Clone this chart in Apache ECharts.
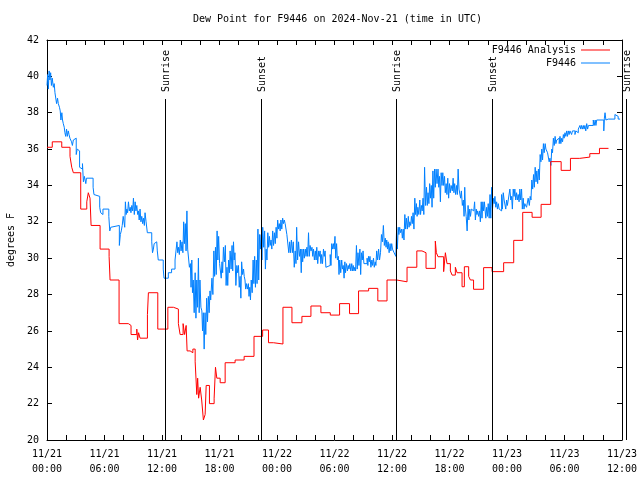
<!DOCTYPE html>
<html><head><meta charset="utf-8">
<script src="https://cdn.jsdelivr.net/npm/echarts@6/dist/echarts.min.js"></script>
<style>html,body{margin:0;padding:0;background:#fff}#c{width:640px;height:480px}</style>
</head><body><div id="c"></div>
<script>
const titleText = 'Dew Point for F9446 on 2024-Nov-21 (time in UTC)';
const yAxisTitle = 'degrees F';
const monthLabel = '11';
const startDay = 21;            // hour 0 = 11/21 00:00 UTC
const xMin = 0, xMax = 60, xStep = 6;
const yMin = 20, yMax = 42, yStep = 2;
const analysisName = 'F9446 Analysis';
const obsName = 'F9446';

// [hour since 11/21 00:00 UTC, dew point F]  (value held until next point)
const analysisData = [[0,36.1],[0.55,36.4],[1.54,36.1],[2.40,35.6],[2.58,35.0],[2.75,34.7],[3.52,32.7],[4.15,33.1],[4.31,33.6],[4.49,33.3],[4.60,31.8],[5.54,30.5],[6.48,30.1],[6.58,28.8],[7.52,26.4],[8.49,26.3],[8.77,25.8],[9.37,26.1],[9.45,25.5],[9.56,25.9],[9.71,25.6],[10.48,26.9],[10.58,28.1],[11.56,26.1],[12.61,27.3],[13.19,27.2],[13.71,26.4],[13.89,25.8],[14.20,26.4],[14.36,25.8],[14.52,26.3],[14.62,24.9],[14.93,24.8],[15.22,25.0],[15.46,24.3],[15.63,22.5],[15.72,23.4],[15.82,22.3],[15.98,22.9],[16.14,22.2],[16.32,21.1],[16.50,21.4],[16.61,23.0],[16.95,22.0],[17.44,22.3],[17.58,24.0],[17.72,23.4],[18.07,23.15],[18.59,24.25],[19.63,24.4],[20.57,24.6],[21.6,25.7],[22.5,26.05],[23.11,25.35],[23.63,25.28],[24.62,27.3],[25.56,26.45],[26.60,26.8],[27.54,27.37],[28.58,27.0],[29.56,26.87],[30.53,27.5],[31.57,26.95],[32.51,28.2],[33.56,28.34],[34.52,27.65],[35.48,28.8],[36.50,28.7],[37.57,29.5],[38.59,30.4],[39.13,30.3],[39.55,29.44],[40.52,30.94],[40.63,30.3],[40.80,30.08],[41.39,29.26],[41.57,30.3],[41.74,29.7],[42.09,29.3],[42.27,29.07],[42.61,29.5],[42.79,29.2],[43.31,28.43],[43.55,29.53],[44.00,29.0],[44.18,28.8],[44.51,28.29],[45.56,29.48],[46.44,29.26],[47.65,29.75],[48.70,30.98],[49.64,32.52],[50.62,32.25],[51.56,32.96],[52.56,35.31],[53.65,34.83],[54.62,35.49],[55.59,35.56],[56.64,35.75],[57.65,36.04],[58.59,36.04]];

const obsData = [[0.00,39.5],[0.07,40.1],[0.14,39.3],[0.22,40.3],[0.30,39.8],[0.38,40.2],[0.46,39.5],[0.55,39.9],[0.66,39.4],[0.75,39.6],[0.83,39.1],[0.92,39.0],
[1.00,38.5],[1.10,38.8],[1.18,38.5],[1.30,38.3],[1.38,38.1],[1.45,37.6],[1.55,38.0],[1.62,37.6],[1.70,37.4],[1.80,37.2],[1.87,36.9],[1.95,36.7],
[2.04,37.1],[2.12,36.7],[2.22,37.0],[2.30,36.8],[2.39,36.6],[2.56,36.4],[2.65,36.2],[2.75,36.5],[2.91,36.6],
[3.05,35.7],[3.15,36.0],[3.25,35.9],[3.40,35.0],[3.55,34.9],[3.70,35.2],[3.80,34.2],[3.90,34.5],
[4.05,34.1],[4.12,34.4],[4.81,33.9],[4.90,33.5],[4.98,33.4],
[5.50,32.8],[5.60,32.5],[5.70,32.4],[5.84,32.7],
[6.45,32.3],[6.55,31.5],[6.65,31.7],[6.85,31.8],
[7.55,30.7],[7.65,31.3],[7.75,31.5],[7.85,31.8],[7.95,32.3],
[8.11,31.7],[8.18,33.1],[8.26,32.4],[8.33,32.7],[8.41,32.5],[8.50,33.1],[8.59,32.6],[8.68,32.8],[8.76,32.5],[8.85,32.9],[8.94,32.6],[9.02,33.3],
[9.11,32.4],[9.20,33.1],[9.28,32.6],[9.37,32.9],[9.46,32.4],[9.54,32.6],[9.62,32.1],[9.71,32.7],[9.80,32.0],[9.89,32.3],[9.98,31.9],
[10.06,32.2],[10.16,31.8],[10.23,32.5],[10.34,32.0],[10.47,31.4],
[10.93,30.9],[11.01,30.3],[11.10,30.5],[11.18,30.8],[11.27,30.9],[11.45,30.9],[11.51,30.4],[11.61,29.9],
[12.13,29.4],[12.21,28.9],[12.66,29.2],[13.00,29.4],
[13.36,29.9],[13.56,30.9],[13.64,30.3],[13.72,30.6],[13.81,30.2],[13.91,31.0],[13.99,30.4],[14.09,30.9],[14.18,30.3],
[14.26,32.0],[14.34,30.8],[14.43,31.9],[14.51,30.4],[14.60,32.6],[14.68,30.5],[14.76,30.6],[14.86,29.5],[14.96,29.7],[15.03,28.4],
[15.11,29.9],[15.18,28.1],[15.26,28.8],[15.36,27.0],[15.46,29.2],[15.54,26.7],[15.63,28.8],[15.71,27.3],[15.80,30.0],[15.88,27.0],[15.96,28.8],[16.06,27.3],
[16.16,27.1],[16.23,26.0],[16.31,27.0],[16.40,25.0],[16.49,27.0],[16.57,25.8],[16.66,27.8],[16.75,26.5],[16.84,27.9],[16.92,27.0],[17.01,28.2],[17.08,27.7],
[17.21,28.9],[17.31,28.0],[17.41,30.4],[17.49,29.0],[17.58,30.6],[17.66,29.1],[17.75,31.5],[17.83,29.9],[17.91,31.2],[18.01,29.7],
[18.11,29.6],[18.18,28.9],[18.26,29.8],[18.33,29.2],[18.41,30.6],[18.51,29.8],[18.61,30.7],[18.69,28.5],[18.78,29.5],[18.86,28.5],[18.95,29.9],[19.03,29.2],
[19.11,30.4],[19.21,29.4],[19.31,30.7],[19.38,29.3],[19.46,30.9],[19.53,29.9],[19.61,30.3],[19.71,28.5],[19.81,29.6],[19.89,29.2],[19.98,29.6],[20.06,28.4],
[20.15,29.0],[20.23,27.8],[20.31,29.8],[20.41,29.1],[20.51,29.4],[20.58,29.0],[20.66,28.8],[20.73,28.3],[20.81,28.6],[20.91,28.3],[21.01,28.6],[21.08,27.9],
[21.16,28.4],[21.23,27.7],[21.31,28.8],[21.41,28.1],[21.51,29.9],[21.59,28.6],[21.67,30.1],[21.75,28.4],[21.84,29.9],[21.92,28.6],[22.01,31.6],[22.09,28.8],
[22.18,31.3],[22.26,30.5],[22.35,31.3],[22.43,29.9],[22.51,31.7],[22.61,30.6],[22.71,31.5],[22.79,29.4],[22.87,30.5],[22.95,29.9],[23.04,31.4],[23.13,30.6],[23.21,31.2],[23.29,30.7],
[23.38,31.0],[23.46,30.5],[23.55,31.5],[23.64,30.7],[23.73,31.4],[23.82,30.8],[23.91,31.7],[23.99,31.1],[24.07,32.1],[24.16,31.6],[24.24,31.9],[24.33,31.5],
[24.41,32.1],[24.50,31.6],[24.59,32.2],[24.68,31.9],[24.76,32.1],[24.85,31.9],[24.94,31.8],[25.03,31.3],
[25.15,31.2],[25.23,30.3],[25.32,30.9],[25.40,30.3],[25.50,31.0],[25.60,30.3],[25.70,30.9],[25.80,29.5],[25.90,30.4],[25.98,29.7],[26.05,31.7],[26.15,29.9],
[26.25,30.9],[26.35,30.1],[26.45,30.5],[26.53,29.2],[26.60,30.5],[26.68,29.8],[26.77,30.5],[26.85,30.0],[26.95,30.5],[27.03,30.1],[27.12,30.6],[27.20,30.1],
[27.29,31.4],[27.37,30.1],[27.45,30.7],[27.55,30.4],[27.65,30.6],[27.73,30.1],[27.81,30.5],[27.90,29.9],[28.00,30.4],[28.08,29.9],
[28.15,30.6],[28.25,29.7],[28.35,30.4],[28.43,30.1],[28.50,30.4],[28.58,29.7],[28.65,30.2],[28.75,29.7],[28.85,30.5],[28.93,30.1],[29.02,30.4],[29.10,29.5],
[29.19,29.6],[29.55,30.2],[29.63,29.6],[29.71,30.8],[29.79,30.5],[29.88,30.8],[29.96,30.5],[30.05,31.2],[30.13,30.0],
[30.22,30.8],[30.30,29.9],[30.40,30.1],[30.47,29.1],[30.55,29.9],[30.65,29.2],[30.75,29.9],[30.83,29.4],[30.91,29.6],[31.00,28.9],[31.08,29.8],[31.15,29.2],
[31.25,29.7],[31.35,29.3],[31.43,29.6],[31.51,29.4],[31.60,29.7],[31.70,29.3],[31.80,29.7],[31.87,29.3],[31.95,29.6],[32.03,29.3],[32.12,29.5],[32.20,29.3],
[32.29,30.7],[32.37,29.4],[32.45,30.3],[32.55,29.6],[32.65,30.5],[32.73,29.1],[32.81,30.3],[32.90,29.9],[32.98,30.4],[33.07,29.7],
[33.20,29.7],[33.40,30.0],[33.48,29.6],[33.55,30.1],[33.63,29.8],[33.70,30.1],[33.80,29.5],[33.90,29.9],[33.98,29.6],[34.07,30.0],[34.15,29.5],[34.25,29.8],[34.32,29.6],
[34.40,30.4],[34.50,29.9],[34.60,30.5],[34.70,29.9],[34.80,30.3],[34.90,31.3],[35.00,30.9],[35.10,31.8],[35.20,30.7],
[35.30,31.1],[35.38,30.6],[35.45,31.0],[35.53,30.5],[35.60,30.9],[35.70,30.3],[35.80,30.8],[35.88,30.4],[35.97,30.8],[36.05,30.5],[36.14,30.5],[36.22,30.3],[36.30,30.3],[36.40,30.1],
[36.48,31.6],[36.56,30.5],[36.65,31.7],[36.72,31.3],[36.80,31.7],[36.90,31.4],[37.00,31.6],[37.08,31.1],[37.17,31.6],[37.25,31.0],
[37.34,32.4],[37.42,31.6],[37.50,32.2],[37.60,31.6],[37.70,32.3],[37.78,31.7],[37.86,32.0],[37.95,31.8],[38.03,32.3],[38.12,31.9],[38.20,32.5],[38.29,31.6],
[38.38,33.3],[38.46,32.4],[38.55,33.0],[38.62,32.3],[38.70,32.8],[38.80,32.4],[38.90,33.2],[38.98,32.4],[39.07,32.9],[39.15,32.6],[39.24,33.3],[39.32,32.4],
[39.40,35.0],[39.50,32.9],[39.60,33.9],[39.68,32.9],[39.76,33.6],[39.85,33.0],[39.93,34.1],[40.01,33.3],[40.10,34.0],[40.18,32.8],[40.27,34.8],[40.35,33.3],
[40.44,34.9],[40.52,33.9],[40.60,34.9],[40.70,34.1],[40.80,34.9],[40.88,33.9],[40.96,34.5],[41.05,33.1],[41.13,34.7],[41.22,34.0],[41.30,34.7],[41.39,34.0],
[41.48,34.5],[41.56,33.6],[41.65,34.1],[41.73,33.5],[41.82,34.4],[41.91,33.3],[42.00,34.1],[42.08,33.6],[42.17,34.0],[42.29,33.7],[42.38,34.4],[42.46,33.6],
[42.54,34.1],[42.64,33.5],[42.74,34.0],[42.82,33.5],[42.90,34.9],[42.99,33.8],[43.07,33.8],[43.16,33.3],[43.24,33.7],[43.34,32.9],[43.44,33.2],[43.52,32.3],
[43.59,33.9],[43.66,32.7],[43.74,32.3],[43.84,31.5],[43.94,32.9],[44.02,32.1],[44.11,32.7],[44.19,32.3],[44.28,32.7],[44.36,32.6],[44.44,32.6],[44.53,32.5],
[44.62,33.1],[44.70,32.1],[44.79,32.7],[44.86,32.4],[44.94,32.6],[45.04,32.3],[45.14,32.6],[45.22,32.0],
[45.31,33.1],[45.39,32.2],[45.48,33.1],[45.56,32.6],[45.64,33.1],[45.71,33.2],[45.79,32.2],[45.88,32.8],[45.96,32.3],[46.04,33.0],[46.14,32.2],
[46.23,33.5],[46.31,32.2],[46.40,33.9],[46.49,32.7],[46.57,33.3],[46.66,33.0],[46.74,33.4],[46.83,32.8],[46.92,33.1],[47.00,32.7],[47.09,33.0],[47.18,32.7],
[47.27,32.8],[47.36,32.6],[47.44,33.5],[47.52,32.7],[47.61,33.6],[47.70,33.2],[47.79,33.3],[47.87,32.7],[47.96,33.2],[48.04,32.9],[48.13,33.2],[48.21,33.1],
[48.30,33.8],[48.39,33.2],[48.48,33.4],[48.56,32.7],[48.65,33.8],[48.74,33.4],[48.82,33.8],[48.91,33.2],[49.00,33.6],[49.09,33.2],[49.17,33.5],[49.26,33.1],
[49.34,33.8],[49.43,33.2],[49.52,33.8],[49.60,32.7],[49.69,33.3],[49.77,32.7],[49.86,33.0],[50.04,32.8],[50.21,33.3],[50.33,32.9],[50.42,33.4],[50.50,33.2],
[50.59,34.3],[50.68,33.8],[50.77,34.6],[50.85,33.9],[50.94,35.0],[51.03,34.2],[51.11,34.8],[51.20,34.1],[51.28,34.9],[51.37,34.3],
[51.46,35.7],[51.54,35.3],[51.63,36.0],[51.71,35.4],[51.80,36.3],[51.88,35.8],[51.98,36.3],[52.06,36.0],[52.15,36.1],[52.23,35.8],[52.32,35.8],[52.40,35.3],
[52.48,35.5],[52.58,35.1],[52.67,36.0],[52.75,35.8],[52.84,36.6],[52.93,36.2],[53.02,36.7],[53.10,36.3],[53.19,36.5],[53.28,36.4],[53.36,36.6],[53.45,36.3],
[53.53,36.7],[53.62,36.3],[53.71,36.6],[53.80,36.4],[53.88,36.8],[53.96,36.6],[54.05,36.9],[54.14,36.7],[54.23,37.0],[54.31,36.7],[54.40,37.0],[54.48,36.8],
[54.57,37.0],[54.74,36.8],[54.83,37.0],[55.09,36.8],[55.18,37.0],[55.26,37.1],[55.35,36.9],[55.44,37.1],
[55.61,37.3],[55.70,37.1],[55.78,37.3],[55.87,37.1],[55.96,37.3],[56.04,37.1],[56.13,37.3],[56.22,37.0],[56.32,37.4],[56.41,37.1],[56.50,37.3],
[57.00,37.6],[57.10,37.3],[57.20,37.6],[57.28,37.3],[57.36,37.6],
[58.10,37.0],[58.16,37.7],[58.23,38.0],[58.32,37.6],[58.40,37.7],[58.50,37.6],[58.57,37.65],
[59.26,37.9],[59.44,37.8],[59.60,37.65],[59.80,37.65]];

const sunNames = ['Sunrise','Sunset','Sunrise','Sunset','Sunrise'];
const sunHours = [12.31, 22.35, 36.37, 46.40, 60.39];

const FONT = '"DejaVu Sans Mono", "Liberation Mono", monospace';
const chart = echarts.init(document.getElementById('c'), null, {renderer:'canvas'});
const two = n => (n < 10 ? '0' : '') + n;
const xLabel = v => monthLabel + '/' + (startDay + Math.floor(v / 24)) + '\n' + two(v % 24) + ':00';

const baseX = {
  type:'value', min:xMin, max:xMax, interval:xStep,
  axisLine:{show:true, onZero:false, lineStyle:{color:'#000', width:1}},
  axisTick:{show:true, inside:true, length:5, lineStyle:{color:'#000'}},
  minorTick:{show:true, splitNumber:3, length:5, lineStyle:{color:'#000'}},
  splitLine:{show:false}
};
const baseY = {
  type:'value', min:yMin, max:yMax, interval:yStep,
  axisLine:{show:true, onZero:false, lineStyle:{color:'#000', width:1}},
  axisTick:{show:true, inside:true, length:5, lineStyle:{color:'#000'}},
  splitLine:{show:false}
};
const legendBase = {right:30, padding:0, align:'right', icon:'rect', itemWidth:29, itemHeight:1,
  selectedMode:false, textStyle:{fontFamily:FONT, fontSize:10, color:'#000'}};

chart.setOption({
  animation:false,
  backgroundColor:'#fff',
  textStyle:{fontFamily:FONT},
  title:{text:titleText, left:188, top:9, textStyle:{fontFamily:FONT, fontSize:10, fontWeight:'normal', color:'#000'}},
  grid:{left:47, right:18, top:40, bottom:40, containLabel:false, outerBoundsMode:'none'},
  legend:[
    Object.assign({}, legendBase, {data:[analysisName], top:45}),
    Object.assign({}, legendBase, {data:[obsName], top:58})
  ],
  xAxis:[
    Object.assign({}, baseX, {position:'bottom',
      axisLabel:{show:true, margin:7, formatter:xLabel, fontFamily:FONT, fontSize:10, color:'#000', lineHeight:15}}),
    Object.assign({}, baseX, {position:'top', axisLabel:{show:false}})
  ],
  yAxis:[
    Object.assign({}, baseY, {position:'left', name:yAxisTitle, nameLocation:'middle', nameRotate:90, nameGap:30,
      nameTextStyle:{fontFamily:FONT, fontSize:10, color:'#000'},
      axisLabel:{show:true, margin:8, fontFamily:FONT, fontSize:10, color:'#000'}}),
    Object.assign({}, baseY, {position:'right', axisLabel:{show:false}})
  ],
  series:[
    {name:analysisName, type:'line', step:'end', data:analysisData, symbol:'none', xAxisIndex:0, yAxisIndex:0,
     lineStyle:{color:'#ff0000', width:1}, itemStyle:{color:'#ff0000'}, z:3},
    {name:obsName, type:'line', step:'end', data:obsData, symbol:'none', xAxisIndex:0, yAxisIndex:0,
     lineStyle:{color:'#0080ff', width:1}, itemStyle:{color:'#0080ff'}, z:2}
  ]
});

// sunrise / sunset markers placed through the axis scale
const yBottom = chart.convertToPixel({yAxisIndex:0}, yMin);
const elements = [];
sunHours.forEach((h, i) => {
  const x = Math.round(chart.convertToPixel({xAxisIndex:0}, h)) + 0.5;
  elements.push({type:'line', silent:true, z:10,
    shape:{x1:x, y1:99, x2:x, y2:yBottom}, style:{stroke:'#000', lineWidth:1}});
  elements.push({type:'text', silent:true, z:10, x:x + 1, y:92, rotation:Math.PI / 2,
    style:{text:sunNames[i], x:0, y:0, fill:'#000', font:'10px ' + FONT,
      align:'left', textAlign:'left', verticalAlign:'middle', textVerticalAlign:'middle'}});
});
chart.setOption({graphic:{elements:elements}});
</script>
</body></html>
